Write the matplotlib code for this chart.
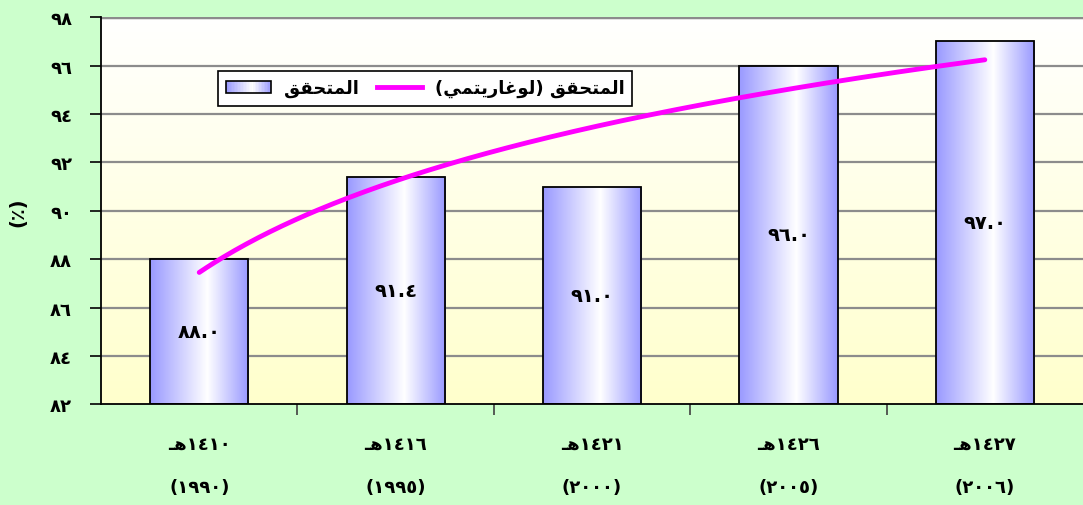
import matplotlib
matplotlib.use("Agg")
import matplotlib.pyplot as plt
import numpy as np
from matplotlib.colors import LinearSegmentedColormap
from matplotlib.patches import Rectangle
from matplotlib.lines import Line2D
from matplotlib.legend_handler import HandlerPatch

# Data
hijri_years = [1410, 1416, 1421, 1426, 1427]
greg_years = [1990, 1995, 2000, 2005, 2006]
achieved = [88.0, 91.4, 91.0, 96.0, 97.0]
y_ticks = [82, 84, 86, 88, 90, 92, 94, 96, 98]
label_bars = "المتحقق"
label_trend_word = "لوغاريتمي"

# --- simple Arabic shaping (matplotlib draws glyphs one by one, no shaping) ---
FORMS = {
    'ا': ('\uFE8D', '\uFE8E', None, None),
    'ر': ('\uFEAD', '\uFEAE', None, None),
    'و': ('\uFEED', '\uFEEE', None, None),
    'ل': ('\uFEDD', '\uFEDE', '\uFEDF', '\uFEE0'),
    'م': ('\uFEE1', '\uFEE2', '\uFEE3', '\uFEE4'),
    'ت': ('\uFE95', '\uFE96', '\uFE97', '\uFE98'),
    'ح': ('\uFEA1', '\uFEA2', '\uFEA3', '\uFEA4'),
    'ق': ('\uFED5', '\uFED6', '\uFED7', '\uFED8'),
    'غ': ('\uFECD', '\uFECE', '\uFECF', '\uFED0'),
    'ي': ('\uFEF1', '\uFEF2', '\uFEF3', '\uFEF4'),
    'ه': ('\uFEE9', '\uFEEA', '\uFEEB', '\uFEEC'),
}


def joins_left(ch):
    return ch == 'ـ' or (ch in FORMS and FORMS[ch][2] is not None)


def joins_right(ch):
    return ch == 'ـ' or ch in FORMS


def rtl(word):
    out = []
    for i, c in enumerate(word):
        if c not in FORMS:
            out.append(c)
            continue
        prev = word[i - 1] if i > 0 else None
        nxt = word[i + 1] if i + 1 < len(word) else None
        jp = prev is not None and joins_left(prev)
        jn = nxt is not None and joins_right(nxt) and FORMS[c][2] is not None
        iso, fin, ini, med = FORMS[c]
        out.append(med if jp and jn else fin if jp else ini if jn else iso)
    return "".join(reversed(out))


AR_DIGITS = str.maketrans("0123456789", "٠١٢٣٤٥٦٧٨٩")


def ar(s):
    return str(s).translate(AR_DIGITS)


plt.rcParams['font.family'] = ['DejaVu Sans']
plt.rcParams['font.weight'] = 'bold'

fig = plt.figure(figsize=(10.83, 5.06), dpi=100, facecolor='#CCFFCC')
ax = fig.add_axes([0.0933, 0.199, 0.9067, 0.765])
ax.set_xlim(0.5, 5.5)
ax.set_ylim(82, 98)

# plot area gradient: white at top, pale yellow at bottom
bg = LinearSegmentedColormap.from_list('bg', ['#FFFFCC', '#FFFFFF'])
ax.imshow(np.linspace(0, 1, 256).reshape(-1, 1), cmap=bg, aspect='auto',
          extent=[0.5, 5.5, 82, 98], origin='lower', zorder=0)

# gridlines
for yv in y_ticks[1:]:
    ax.axhline(yv, color='#8C8C8C', lw=1.6 if yv < 98 else 2.5, zorder=1)

# bars with horizontal gradient
barcm = LinearSegmentedColormap.from_list(
    'bar', [(0, '#9999FF'), (0.58, '#FFFFFF'), (1, '#9999FF')])
x = np.arange(1, len(achieved) + 1)
bars = ax.bar(x, [v - 82 for v in achieved], bottom=82, width=0.5,
              facecolor='none', edgecolor='black', lw=1.3, zorder=3)
grad = np.linspace(0, 1, 256).reshape(1, -1)
for b in bars:
    bx, by = b.get_x(), b.get_y()
    im = ax.imshow(grad, cmap=barcm, aspect='auto', zorder=2,
                   extent=[bx, bx + b.get_width(), by, by + b.get_height()])
    im.set_clip_path(b)

# value labels inside bars
for xi, v in zip(x, achieved):
    ax.text(xi, (82 + v) / 2, ar(f"{v:.1f}"), ha='center', va='center',
            fontsize=14, fontweight='bold', zorder=4)

# logarithmic trendline fitted to the data
b_, a_ = np.polyfit(np.log(x), achieved, 1)
xs = np.linspace(1, 5, 200)
trend, = ax.plot(xs, a_ + b_ * np.log(xs), color='#FF00FF', lw=3.5, zorder=5,
                 solid_capstyle='round')

# axes styling
for s in ['top', 'right']:
    ax.spines[s].set_visible(False)
ax.spines['left'].set_linewidth(1.3)
ax.spines['bottom'].set_linewidth(1.3)
ax.set_yticks(y_ticks)
ax.set_yticklabels([ar(t) for t in y_ticks], fontsize=13, fontweight='bold')
ax.tick_params(axis='y', length=8, width=1.2, pad=13)
ax.set_xticks(x)
ax.set_xticklabels([rtl("هـ") + ar(h) + "\n(" + ar(g) + ")"
                    for h, g in zip(hijri_years, greg_years)],
                   fontsize=13, fontweight='bold', linespacing=2.8)
ax.tick_params(axis='x', length=0, pad=22)
ax.set_xticks(np.arange(1.5, 5.5, 1), minor=True)
ax.tick_params(axis='x', which='minor', length=8, width=1.2, color='#404040')
ax.set_ylabel("(٪)", fontsize=14, fontweight='bold', labelpad=16)


class GradientHandler(HandlerPatch):
    def create_artists(self, legend, orig_handle, xd, yd, width, height,
                       fontsize, trans):
        arts = []
        n = 30
        for i in range(n):
            c = barcm((i + 0.5) / n)
            arts.append(Rectangle((-xd + width * i / n, -yd), width / n, height,
                                  facecolor=c, edgecolor='none', transform=trans))
        arts.append(Rectangle((-xd, -yd), width, height, facecolor='none',
                              edgecolor='black', lw=1.2, transform=trans))
        return arts


bar_handle = Rectangle((0, 0), 1, 1)
line_handle = Line2D([], [], color='#FF00FF', lw=3.5)
# logical "المتحقق (لوغاريتمي)" laid out right-to-left
trend_label = "(" + rtl(label_trend_word) + ") " + rtl(label_bars)
leg = ax.legend([bar_handle, line_handle], [rtl(label_bars), trend_label],
                handler_map={Rectangle: GradientHandler()},
                ncol=2, markerfirst=True, loc='upper left',
                bbox_to_anchor=(0.119, 0.861), borderaxespad=0,
                fancybox=False, framealpha=1,
                edgecolor='black', prop={'size': 13, 'weight': 'bold'},
                handlelength=2.5, handletextpad=0.7, columnspacing=1.0,
                borderpad=0.45)
leg.get_frame().set_linewidth(1.2)
leg.set_zorder(6)

fig.savefig("out.png", dpi=100, facecolor=fig.get_facecolor())
